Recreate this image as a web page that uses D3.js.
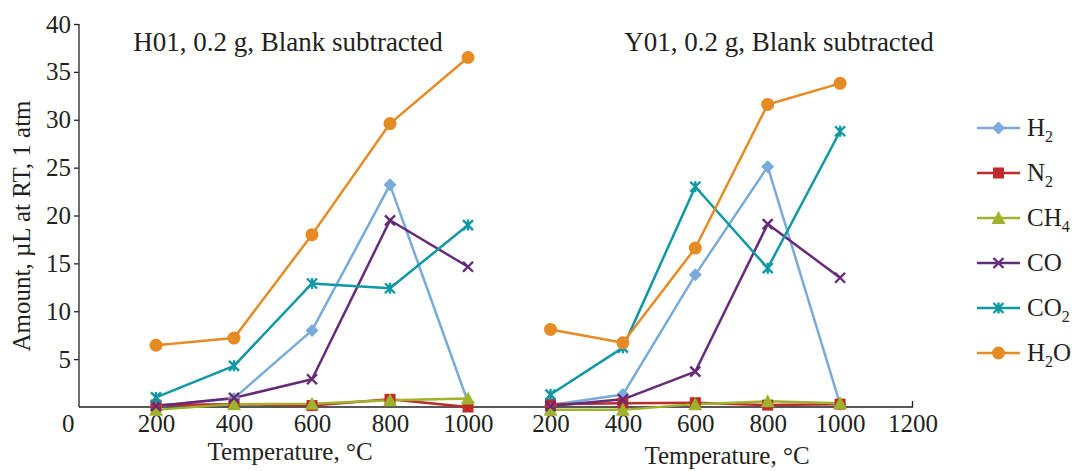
<!DOCTYPE html>
<html><head><meta charset="utf-8">
<script src="https://cdn.jsdelivr.net/npm/d3@7"></script>
<style>body{margin:0;background:#fff}svg{display:block}text{font-family:"Liberation Serif","DejaVu Serif",serif;fill:#231f20}</style>
</head><body><svg id="c" width="1078" height="471"></svg>
<script>
const temps = [200, 400, 600, 800, 1000];
const leftTicks = [0, 200, 400, 600, 800, 1000];
const rightTicks = [200, 400, 600, 800, 1000, 1200];
const yTicks = [5, 10, 15, 20, 25, 30, 35, 40];
const gases = ["H2", "N2", "CH4", "CO", "CO2", "H2O"];
const gasLabels = [["H","2",""],["N","2",""],["CH","4",""],["CO","",""],["CO","2",""],["H","2","O"]];
const colors = ["#78abda", "#bf2a2b", "#a0b22c", "#652a78", "#0f98a3", "#e68a24"];
const H01 = {
  H2:  [0.1, 0.9, 8.0, 23.2, 0.5],
  N2:  [0.2, 0.3, 0.15, 0.8, 0.0],
  CH4: [-0.3, 0.3, 0.35, 0.7, 0.9],
  CO:  [0.1, 0.95, 2.9, 19.5, 14.65],
  CO2: [1.0, 4.3, 12.9, 12.4, 19.0],
  H2O: [6.45, 7.2, 18.0, 29.6, 36.5]
};
const Y01 = {
  H2:  [0.2, 1.3, 13.8, 25.1, 0.3],
  N2:  [0.3, 0.4, 0.45, 0.2, 0.3],
  CH4: [-0.3, -0.3, 0.3, 0.6, 0.4],
  CO:  [0.1, 0.8, 3.7, 19.1, 13.5],
  CO2: [1.3, 6.2, 23.0, 14.5, 28.8],
  H2O: [8.1, 6.7, 16.6, 31.6, 33.8]
};

const svg = d3.select("#c");
const y = d3.scaleLinear().domain([0, 40]).range([407, 24]);
const xL = d3.scaleLinear().domain([0, 200, 1000]).range([67, 156, 468]);
const xR = d3.scaleLinear().domain([200, 1200]).range([550.5, 912.5]);
const FS = 25;

// y axis
const ya = svg.append("g").attr("transform", "translate(79,0)")
  .call(d3.axisLeft(y).tickValues(yTicks).tickSize(5).tickPadding(3).tickSizeOuter(0));
ya.select(".domain").attr("stroke", "#231f20").attr("stroke-width", 1.3).attr("d", "M0,24V407");
ya.selectAll(".tick line").attr("stroke", "#231f20").attr("stroke-width", 1.3);
ya.selectAll(".tick text").attr("font-size", FS).attr("font-family", "Liberation Serif").attr("fill", "#231f20");

// x axis line
svg.append("path").attr("d", `M79,407H${xR(1200)}V${407-6}`).attr("fill", "none").attr("stroke", "#231f20").attr("stroke-width", 1.3);
const fmt = d3.format("d");
const xaL = svg.append("g").attr("transform", "translate(0,407)")
  .call(d3.axisBottom(xL).tickValues(leftTicks).tickFormat(fmt).tickSize(0).tickPadding(7));
const xaR = svg.append("g").attr("transform", "translate(0,407)")
  .call(d3.axisBottom(xR).tickValues(rightTicks).tickFormat(fmt).tickSize(0).tickPadding(7));
[xaL, xaR].forEach(a => {
  a.select(".domain").remove();
  a.selectAll(".tick text").attr("font-size", FS).attr("font-family", "Liberation Serif").attr("fill", "#231f20");
});
xaL.selectAll(".tick text").filter(d => d === 0).attr("text-anchor", "end").attr("dx", 7);

// axis titles
svg.append("text").attr("transform", "translate(30,226) rotate(-90)").attr("text-anchor", "middle").attr("font-size", FS).text("Amount, µL at RT, 1 atm");
svg.append("text").attr("x", 290).attr("y", 460).attr("text-anchor", "middle").attr("font-size", FS).text("Temperature, °C");
svg.append("text").attr("x", 727).attr("y", 464).attr("text-anchor", "middle").attr("font-size", FS).text("Temperature, °C");

// panel titles
svg.append("text").attr("x", 288).attr("y", 51).attr("text-anchor", "middle").attr("font-size", 27).text("H01, 0.2 g, Blank subtracted");
svg.append("text").attr("x", 779).attr("y", 51).attr("text-anchor", "middle").attr("font-size", 27).text("Y01, 0.2 g, Blank subtracted");

function marker(g, i, cx, cy) {
  const c = colors[i];
  const s = g.append("g").attr("transform", `translate(${cx},${cy})`);
  if (i === 0) s.append("path").attr("d", "M0,-6.5L6.5,0L0,6.5L-6.5,0Z").attr("fill", c);
  else if (i === 1) s.append("rect").attr("x", -5.5).attr("y", -5.5).attr("width", 11).attr("height", 11).attr("fill", c);
  else if (i === 2) s.append("path").attr("d", "M0,-7L7,6L-7,6Z").attr("fill", c);
  else if (i === 3) s.append("path").attr("d", "M-5,-5L5,5M5,-5L-5,5").attr("stroke", c).attr("stroke-width", 2.4);
  else if (i === 4) s.append("path").attr("d", "M-5,-5L5,5M5,-5L-5,5M0,-5.5V5.5").attr("stroke", c).attr("stroke-width", 2.4);
  else s.append("circle").attr("r", 6.5).attr("fill", c);
}

function panel(data, x) {
  const g = svg.append("g");
  const line = d3.line().x((d, j) => x(temps[j])).y(d => y(d));
  gases.forEach((k, i) => {
    g.append("path").datum(data[k]).attr("d", line).attr("fill", "none")
      .attr("stroke", colors[i]).attr("stroke-width", 2.5).attr("stroke-linejoin", "round");
  });
  gases.forEach((k, i) => {
    data[k].forEach((v, j) => marker(g, i, x(temps[j]), y(v)));
  });
}
panel(H01, xL);
panel(Y01, xR);

// legend
const lg = svg.append("g");
gases.forEach((k, i) => {
  const ly = 128 + i * 45;
  lg.append("line").attr("x1", 977).attr("x2", 1020).attr("y1", ly).attr("y2", ly).attr("stroke", colors[i]).attr("stroke-width", 2.5);
  marker(lg, i, 998.5, ly);
  const t = lg.append("text").attr("x", 1027).attr("y", ly + 8).attr("font-size", FS);
  const [a, sub, b] = gasLabels[i];
  t.append("tspan").text(a);
  if (sub) t.append("tspan").attr("font-size", 16).attr("dy", 6).text(sub);
  if (b) t.append("tspan").attr("dy", -6).text(b);
});
</script></body></html>
